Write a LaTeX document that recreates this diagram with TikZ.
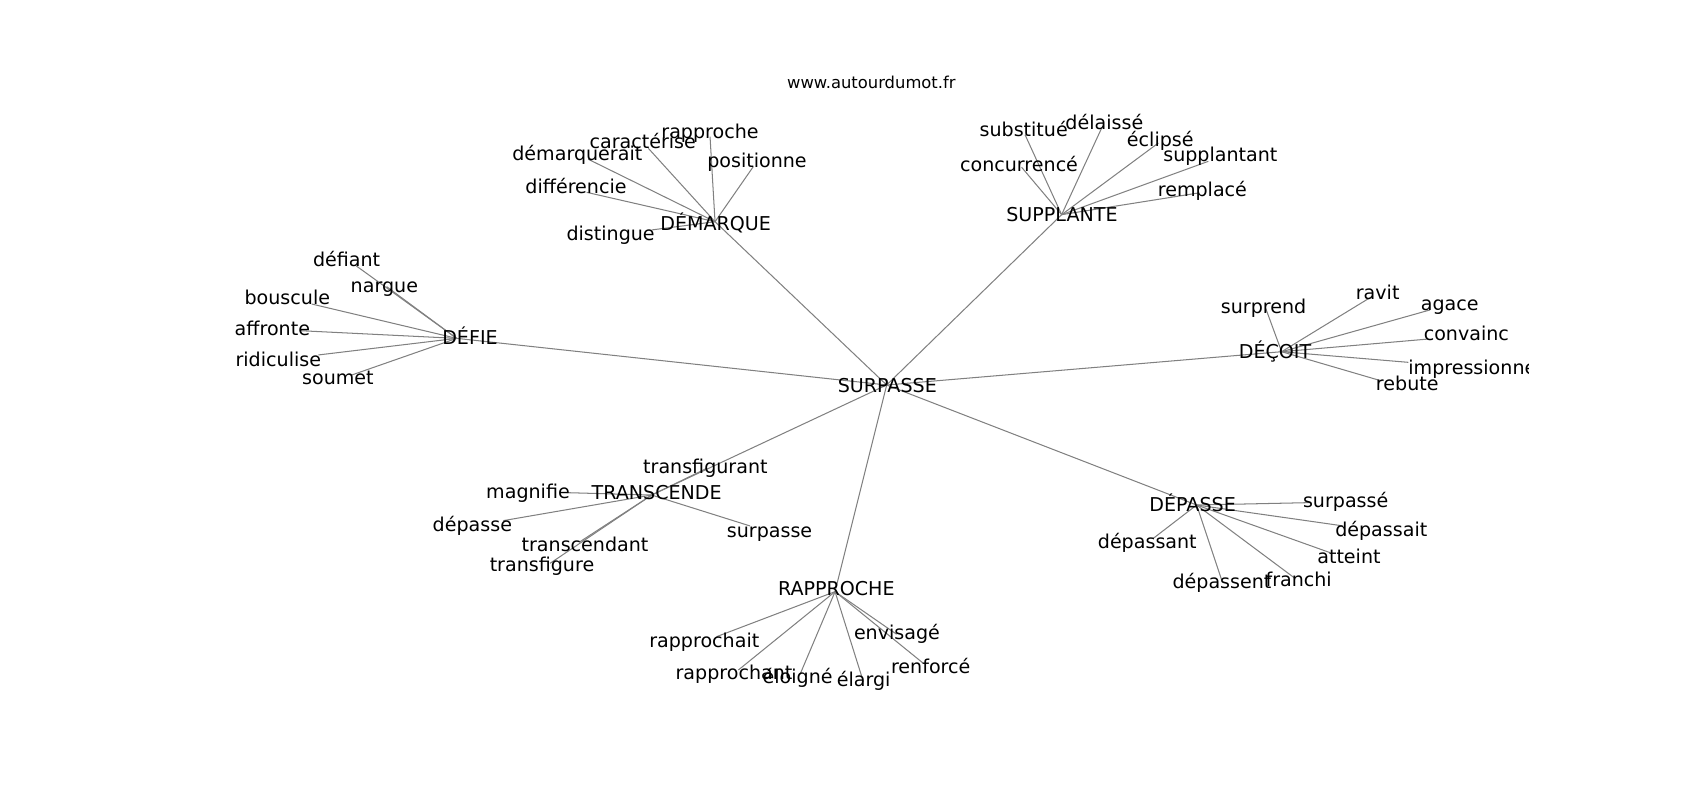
\documentclass[tikz,border=0pt]{standalone}
\usepackage{fontspec}
\setmainfont{DejaVu Sans}
\begin{document}
\begin{tikzpicture}[x=1pt,y=-1pt,
  edge/.style={draw=black!50, line width=0.95pt},
  lab/.style={anchor=base, inner sep=0pt, font=\fontsize{17.6}{20}\selectfont},
  ttl/.style={anchor=base, inner sep=0pt, font=\fontsize{15.1}{18}\selectfont}]
\useasboundingbox (0,0) rectangle (1568,738);
\node[ttl] (title) at (803.7,81.5) {www.autourdumot.fr};
\begin{scope}
\clip (196,88.6) rectangle (1410,656.8);
% hub points
\coordinate (sur) at (817.8,355.1);
\coordinate (dem) at (659.5,204.5);
\coordinate (def) at (421.2,312.1);
\coordinate (sup) at (979.2,198);
\coordinate (dec) at (1182.1,324.4);
\coordinate (tra) at (601.1,456.6);
\coordinate (rap) at (770.2,545.7);
\coordinate (dep) at (1103.7,465.8);
% leaf points
\coordinate (dem1) at (542.6,146.9);
\coordinate (dem2) at (598,136.8);
\coordinate (dem3) at (654.9,126);
\coordinate (dem4) at (694.8,153.7);
\coordinate (dem5) at (541.1,177.4);
\coordinate (dem6) at (601,212.1);
\coordinate (def1) at (327.4,244.4);
\coordinate (def2) at (356.6,264.4);
\coordinate (def3) at (287.5,280.4);
\coordinate (def4) at (276.7,305);
\coordinate (def5) at (293.6,327.4);
\coordinate (def6) at (324.4,345.9);
\coordinate (sup1) at (945.4,124.2);
\coordinate (sup2) at (1016.1,118.1);
\coordinate (sup3) at (1068.4,131.9);
\coordinate (sup4) at (1114.5,148.8);
\coordinate (sup5) at (942.3,154.3);
\coordinate (sup6) at (1105.3,178);
\coordinate (dec1) at (1167.4,284.4);
\coordinate (dec2) at (1265.2,273.6);
\coordinate (dec3) at (1318.9,285.9);
\coordinate (dec4) at (1317.4,312.7);
\coordinate (dec5) at (1299,334.2);
\coordinate (dec6) at (1274.4,351.4);
\coordinate (tra1) at (651.8,432);
\coordinate (tra2) at (522.7,454.4);
\coordinate (tra3) at (464.2,480.2);
\coordinate (tra4) at (691.8,485.1);
\coordinate (tra5) at (535,499.6);
\coordinate (tra6) at (507.3,519.6);
\coordinate (rap1) at (661,587.2);
\coordinate (rap2) at (681,618);
\coordinate (rap3) at (737.9,622);
\coordinate (rap4) at (796.3,628.7);
\coordinate (rap5) at (827,585);
\coordinate (rap6) at (851.6,611.8);
\coordinate (dep1) at (1208.3,463.6);
\coordinate (dep2) at (1239,485.1);
\coordinate (dep3) at (1226.7,509.7);
\coordinate (dep4) at (1063.8,496.5);
\coordinate (dep5) at (1126.8,535);
\coordinate (dep6) at (1194.4,533.4);
% edges
\foreach \h in {dem,def,sup,dec,tra,rap,dep}{\draw[edge] (sur) -- (\h);}
\foreach \h in {dem,def,sup,dec,tra,rap,dep}{
  \foreach \i in {1,...,6}{\draw[edge] (\h) -- (\h\i);}}
% labels
\node[lab] (surL) at (818.4,362.2) {SURPASSE};
\node[lab] (demL) at (660.1,212.8) {DÉMARQUE};
\node[lab] (defL) at (433.5,317.3) {DÉFIE};
\node[lab] (supL) at (979.5,204.1) {SUPPLANTE};
\node[lab] (decL) at (1176,330.5) {DÉÇOIT};
\node[lab] (traL) at (605.7,460.6) {TRANSCENDE};
\node[lab] (rapL) at (771.4,549.4) {RAPPROCHE};
\node[lab] (depL) at (1100,471.9) {DÉPASSE};
\node[lab] (dem1L) at (532.5,148.2) {démarquerait};
\node[lab] (dem2L) at (592.8,136.8) {caractérise};
\node[lab] (dem3L) at (654.9,128.2) {rapproche};
\node[lab] (dem4L) at (698.2,154.7) {positionne};
\node[lab] (dem5L) at (531.3,178.3) {différencie};
\node[lab] (dem6L) at (563.2,221.4) {distingue};
\node[lab] (def1L) at (319.7,246) {défiant};
\node[lab] (def2L) at (354.5,270) {nargue};
\node[lab] (def3L) at (265,281.3) {bouscule};
\node[lab] (def4L) at (251.2,309) {affronte};
\node[lab] (def5L) at (256.7,337.6) {ridiculise};
\node[lab] (def6L) at (311.7,355.1) {soumet};
\node[lab] (sup1L) at (944.2,125.7) {substitué};
\node[lab] (sup2L) at (1018.6,119.6) {délaissé};
\node[lab] (sup3L) at (1070.2,135) {éclipsé};
\node[lab] (sup4L) at (1125.6,149.4) {supplantant};
\node[lab] (sup5L) at (939.9,158) {concurrencé};
\node[lab] (sup6L) at (1109,181.1) {remplacé};
\node[lab] (dec1L) at (1165.5,289) {surprend};
\node[lab] (dec2L) at (1270.7,275.8) {ravit};
\node[lab] (dec3L) at (1337.1,286.8) {agace};
\node[lab] (dec4L) at (1352.5,314.5) {convainc};
\node[lab] (dec5L) at (1358,345.3) {impressionne};
\node[lab] (dec6L) at (1298,360.6) {rebute};
\node[lab] (tra1L) at (650.6,436.6) {transfigurant};
\node[lab] (tra2L) at (487,459.6) {magnifie};
\node[lab] (tra3L) at (435.7,490.4) {dépasse};
\node[lab] (tra4L) at (709.8,495.6) {surpasse};
\node[lab] (tra5L) at (539.6,508.8) {transcendant};
\node[lab] (tra6L) at (499.9,527.3) {transfigure};
\node[lab] (rap1L) at (649.6,597.4) {rapprochait};
\node[lab] (rap2L) at (677,626.3) {rapprochant};
\node[lab] (rap3L) at (735.7,630.3) {éloigné};
\node[lab] (rap4L) at (796.6,633.3) {élargi};
\node[lab] (rap5L) at (827.3,589.4) {envisagé};
\node[lab] (rap6L) at (858.4,621) {renforcé};
\node[lab] (dep1L) at (1241.2,467.9) {surpassé};
\node[lab] (dep2L) at (1274,495) {dépassait};
\node[lab] (dep3L) at (1244.2,520.2) {atteint};
\node[lab] (dep4L) at (1058.2,505.7) {dépassant};
\node[lab] (dep5L) at (1127.1,542.6) {dépassent};
\node[lab] (dep6L) at (1197.8,541.1) {franchi};
\end{scope}
\end{tikzpicture}
\end{document}
